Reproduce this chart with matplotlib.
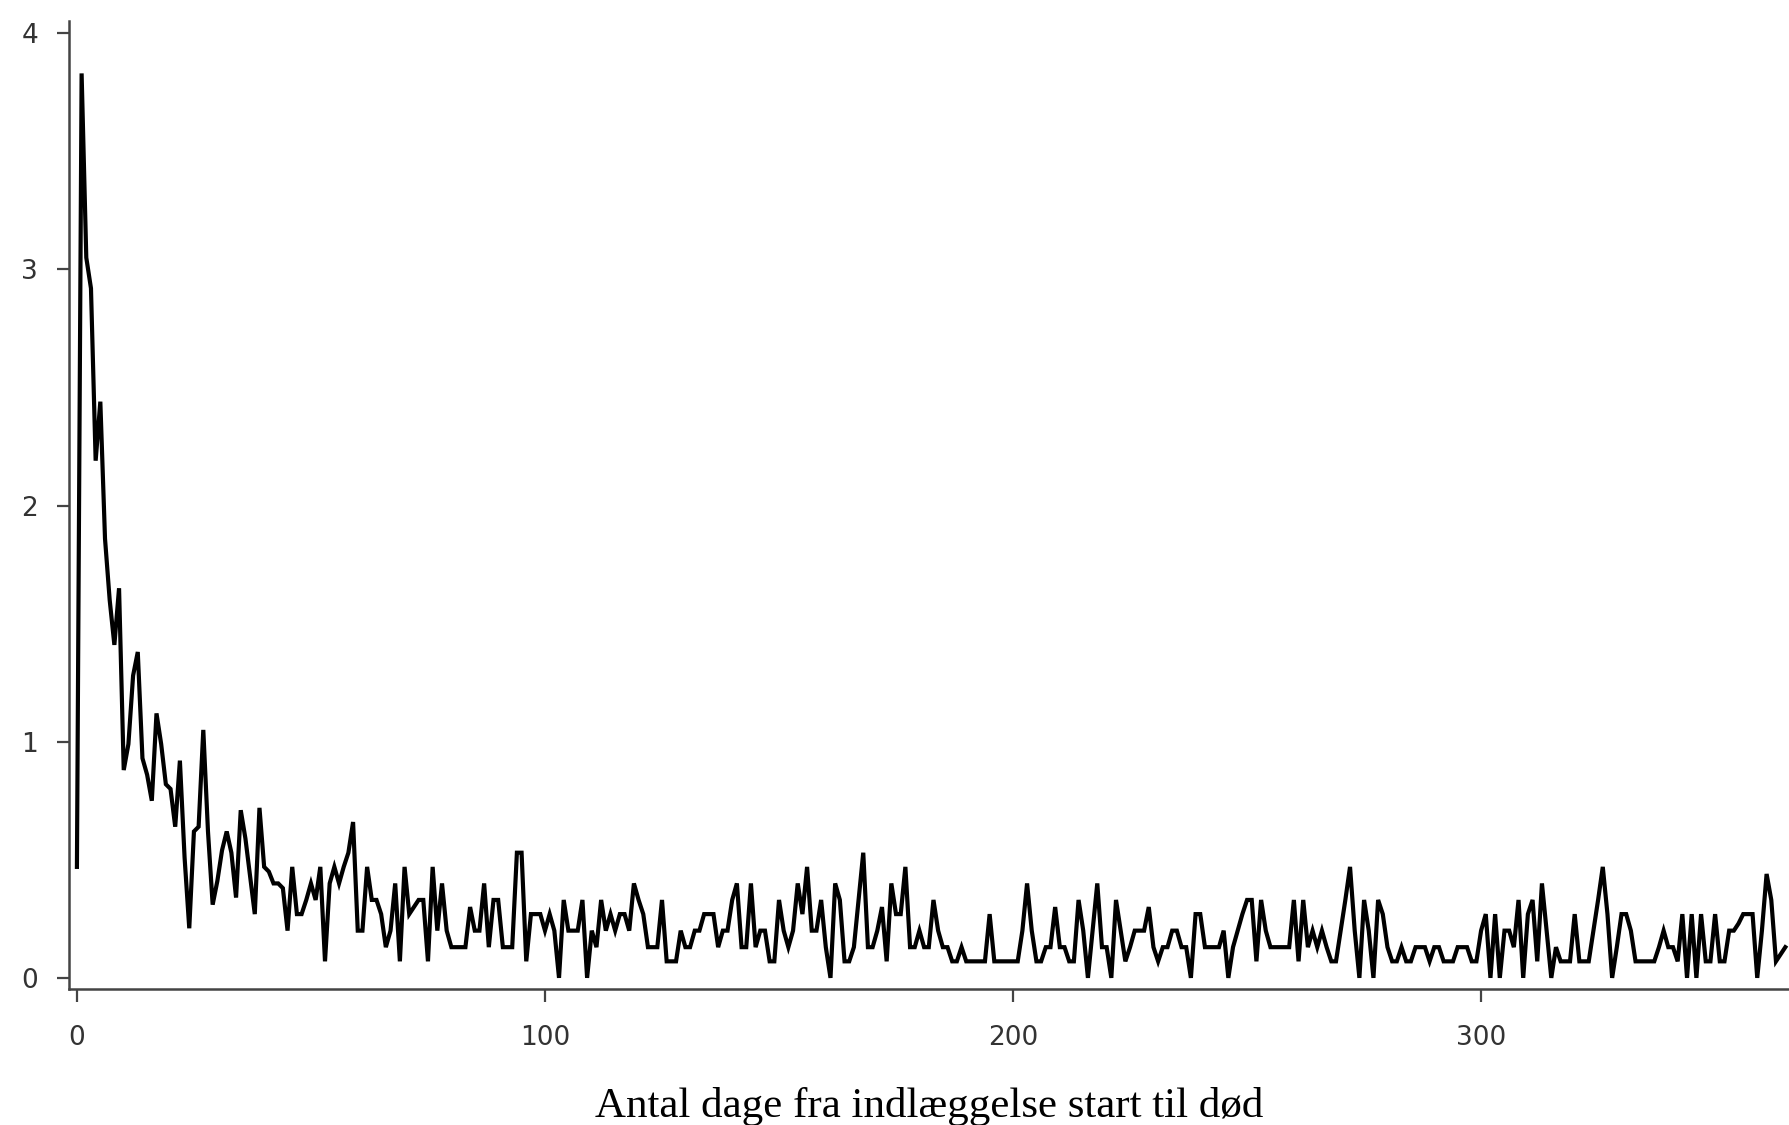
import matplotlib
matplotlib.use("Agg")
import matplotlib.pyplot as plt

# Days since admission start (0..365)
days = list(range(0, 366))

# Share of deaths (percent) per day
pct_0_39 = [0.47, 3.83, 3.05, 2.92, 2.19, 2.44, 1.86, 1.60, 1.41, 1.65,
            0.88, 0.99, 1.28, 1.38, 0.93, 0.86, 0.75, 1.12, 0.99, 0.82,
            0.80, 0.64, 0.92, 0.51, 0.21, 0.62, 0.64, 1.05, 0.62, 0.31,
            0.41, 0.54, 0.62, 0.53, 0.34, 0.71, 0.59, 0.43, 0.27, 0.72]
pct_40_79 = [0.47, 0.45, 0.40, 0.40, 0.38, 0.20, 0.47, 0.27, 0.27, 0.33,
             0.40, 0.33, 0.47, 0.07, 0.40, 0.47, 0.40, 0.47, 0.53, 0.66,
             0.20, 0.20, 0.47, 0.33, 0.33, 0.27, 0.13, 0.20, 0.40, 0.07,
             0.47, 0.27, 0.30, 0.33, 0.33, 0.07, 0.47, 0.20, 0.40, 0.20]
pct_80_119 = [0.13, 0.13, 0.13, 0.13, 0.30, 0.20, 0.20, 0.40, 0.13, 0.33,
              0.33, 0.13, 0.13, 0.13, 0.53, 0.53, 0.07, 0.27, 0.27, 0.27,
              0.20, 0.27, 0.20, 0.00, 0.33, 0.20, 0.20, 0.20, 0.33, 0.00,
              0.20, 0.13, 0.33, 0.20, 0.27, 0.20, 0.27, 0.27, 0.20, 0.40]
pct_120_159 = [0.33, 0.27, 0.13, 0.13, 0.13, 0.33, 0.07, 0.07, 0.07, 0.20,
               0.13, 0.13, 0.20, 0.20, 0.27, 0.27, 0.27, 0.13, 0.20, 0.20,
               0.33, 0.40, 0.13, 0.13, 0.40, 0.13, 0.20, 0.20, 0.07, 0.07,
               0.33, 0.20, 0.13, 0.20, 0.40, 0.27, 0.47, 0.20, 0.20, 0.33]
pct_160_199 = [0.13, 0.00, 0.40, 0.33, 0.07, 0.07, 0.13, 0.33, 0.53, 0.13,
               0.13, 0.20, 0.30, 0.07, 0.40, 0.27, 0.27, 0.47, 0.13, 0.13,
               0.20, 0.13, 0.13, 0.33, 0.20, 0.13, 0.13, 0.07, 0.07, 0.13,
               0.07, 0.07, 0.07, 0.07, 0.07, 0.27, 0.07, 0.07, 0.07, 0.07]
pct_200_239 = [0.07, 0.07, 0.20, 0.40, 0.20, 0.07, 0.07, 0.13, 0.13, 0.30,
               0.13, 0.13, 0.07, 0.07, 0.33, 0.20, 0.00, 0.20, 0.40, 0.13,
               0.13, 0.00, 0.33, 0.20, 0.07, 0.13, 0.20, 0.20, 0.20, 0.30,
               0.13, 0.07, 0.13, 0.13, 0.20, 0.20, 0.13, 0.13, 0.00, 0.27]
pct_240_279 = [0.27, 0.13, 0.13, 0.13, 0.13, 0.20, 0.00, 0.13, 0.20, 0.27,
               0.33, 0.33, 0.07, 0.33, 0.20, 0.13, 0.13, 0.13, 0.13, 0.13,
               0.33, 0.07, 0.33, 0.13, 0.20, 0.13, 0.20, 0.13, 0.07, 0.07,
               0.20, 0.33, 0.47, 0.20, 0.00, 0.33, 0.20, 0.00, 0.33, 0.27]
pct_280_319 = [0.13, 0.07, 0.07, 0.13, 0.07, 0.07, 0.13, 0.13, 0.13, 0.07,
               0.13, 0.13, 0.07, 0.07, 0.07, 0.13, 0.13, 0.13, 0.07, 0.07,
               0.20, 0.27, 0.00, 0.27, 0.00, 0.20, 0.20, 0.13, 0.33, 0.00,
               0.27, 0.33, 0.07, 0.40, 0.20, 0.00, 0.13, 0.07, 0.07, 0.07]
pct_320_365 = [0.27, 0.07, 0.07, 0.07, 0.20, 0.33, 0.47, 0.27, 0.00, 0.13,
               0.27, 0.27, 0.20, 0.07, 0.07, 0.07, 0.07, 0.07, 0.13, 0.20,
               0.13, 0.13, 0.07, 0.27, 0.00, 0.27, 0.00, 0.27, 0.07, 0.07,
               0.27, 0.07, 0.07, 0.20, 0.20, 0.23, 0.27, 0.27, 0.27, 0.00,
               0.20, 0.44, 0.33, 0.07, 0.10, 0.13]

pct = (pct_0_39 + pct_40_79 + pct_80_119 + pct_120_159 + pct_160_199 +
       pct_200_239 + pct_240_279 + pct_280_319 + pct_320_365)

x_ticks = [0, 100, 200, 300]
y_ticks = [0, 1, 2, 3, 4]
x_label = "Antal dage fra indlæggelse start til død"

W, H = 1790, 1125
fig = plt.figure(figsize=(W / 100, H / 100), dpi=100)
fig.patch.set_facecolor("white")

left = 68.5 / W
bottom = 1 - 988.5 / H
top = 1 - 20.5 / H
ax = fig.add_axes([left, bottom, 1.0 - left, top - bottom])

ax.plot(days[:len(pct)], pct, color="black", linewidth=3.0,
        solid_joinstyle="miter")

ax.set_xlim(-1.8, 366.0)
ax.set_ylim(-0.045, 4.054)
ax.set_xticks(x_ticks)
ax.set_yticks(y_ticks)
ax.set_xticklabels([str(t) for t in x_ticks])
ax.set_yticklabels([str(t) for t in y_ticks])

for side in ["top", "right"]:
    ax.spines[side].set_visible(False)
for side in ["left", "bottom"]:
    ax.spines[side].set_color("#444444")
    ax.spines[side].set_linewidth(1.8)

ax.tick_params(axis="both", direction="out", length=9, width=1.6,
               color="#444444", labelcolor="#333333", labelsize=19)
ax.tick_params(axis="x", pad=17)
ax.tick_params(axis="y", pad=13)
for lab in ax.get_xticklabels() + ax.get_yticklabels():
    lab.set_family("DejaVu Sans")

ax.set_xlabel(x_label, family="Liberation Serif", fontsize=31,
              color="black", labelpad=26)

fig.savefig("out.png", dpi=100, facecolor="white")
